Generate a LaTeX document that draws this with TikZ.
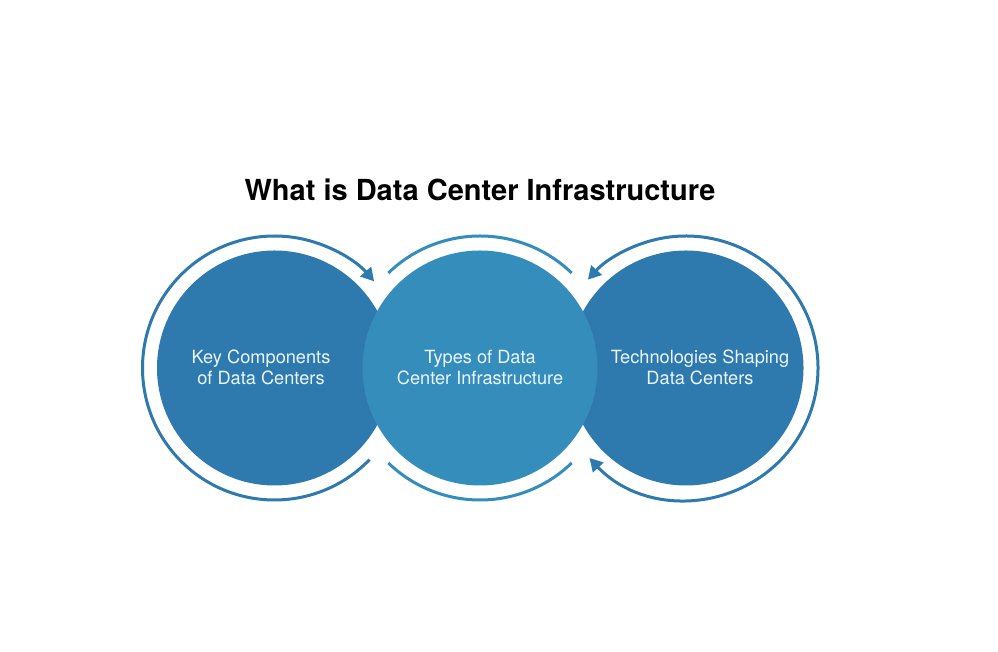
\documentclass[tikz,border=0pt]{standalone}
\usepackage{fontspec}
\setmainfont{TeX Gyre Heros}
\usetikzlibrary{arrows.meta}
\definecolor{darkblue}{RGB}{46,122,174}
\definecolor{midblue}{RGB}{53,141,188}
\definecolor{txt}{RGB}{235,246,255}
\begin{document}
\begin{tikzpicture}[x=1pt,y=1pt,
  bubble/.style={circle, minimum size=235pt, inner sep=0pt},
  caption/.style={text=txt, font=\fontsize{18.2}{20.5}\selectfont, align=center, inner sep=0pt},
  ring/.style={draw=darkblue, line width=3pt},
  tipend/.style={-{Triangle[length=13pt,width=14pt]}},
  tipboth/.style={{Triangle[length=13pt,width=14pt]}-{Triangle[length=13pt,width=14pt]}}]
\useasboundingbox (0,0) rectangle (998,652);
\fill[white] (0,0) rectangle (998,652);
\node[bubble, fill=darkblue] (L) at (274.5,284) {};
\node[bubble, fill=darkblue] (R) at (686,284) {};
\node[bubble, fill=midblue] (M) at (480,284) {};
\node[caption] (Lt) at ([xshift=-13.5pt,yshift=0.5pt]L.center) {Key Components\\of Data Centers};
\node[caption] (Mt) at ([yshift=0.5pt]M.center) {Types of Data\\Center Infrastructure};
\node[caption] (Rt) at ([xshift=14pt,yshift=0.5pt]R.center) {Technologies Shaping\\Data Centers};
\node[font=\bfseries\fontsize{29}{34}\selectfont, anchor=base] (T) at (480,451) {What is Data Center Infrastructure};
\draw[ring, tipend] ([shift={(-44:132)}]L.center) arc[start angle=-44, end angle=-319, radius=132];
\draw[ring, draw=midblue] ([shift={(46:132)}]M.center) arc[start angle=46, end angle=134, radius=132];
\draw[ring, draw=midblue] ([shift={(226:132)}]M.center) arc[start angle=226, end angle=314, radius=132];
\draw[ring, tipboth] ([shift={(-137:132)}]R.center) arc[start angle=-137, end angle=138, radius=132];
\end{tikzpicture}
\end{document}
